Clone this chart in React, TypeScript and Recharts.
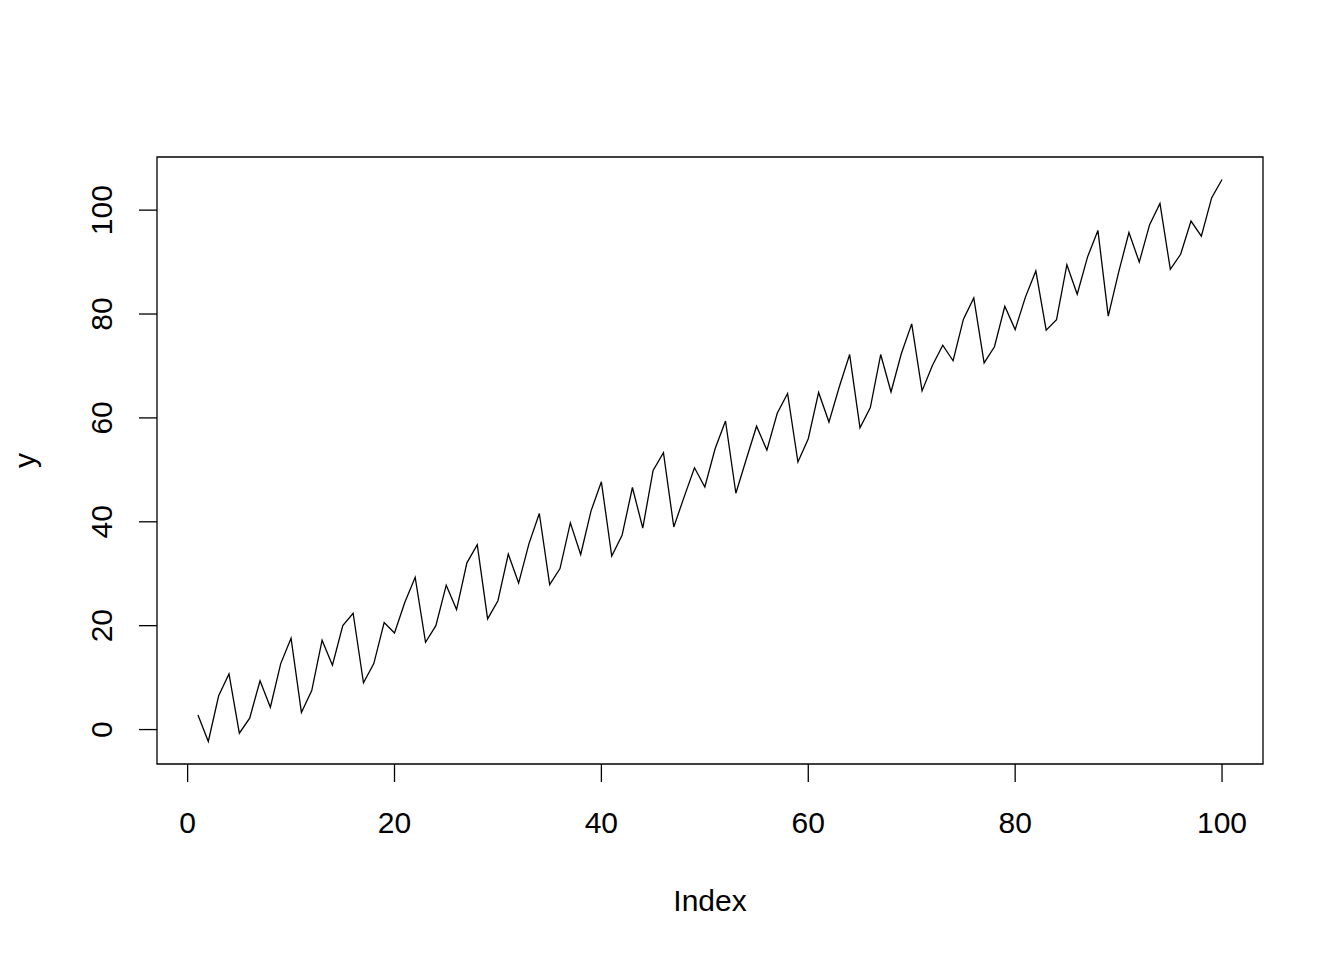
import React from 'react';
import { LineChart, Line, XAxis, YAxis, ReferenceArea, Label } from 'recharts';

// values of y, index 1..100
const yValues = [
  2.8, -2.3, 6.5, 10.7, -0.7, 2.2, 9.4, 4.3, 12.7, 17.6,
  3.3, 7.5, 17.2, 12.4, 20.0, 22.4, 9.0, 12.7, 20.6, 18.6,
  24.5, 29.3, 16.8, 20.0, 27.8, 23.1, 32.1, 35.6, 21.3, 24.8,
  33.8, 28.2, 35.8, 41.6, 27.9, 31.0, 39.8, 33.7, 42.1, 47.7,
  33.4, 37.4, 46.6, 38.8, 49.9, 53.3, 39.0, 44.8, 50.4, 46.7,
  54.1, 59.4, 45.5, 52.0, 58.4, 53.8, 60.9, 64.7, 51.5, 56.0,
  64.9, 59.2, 66.0, 72.2, 58.1, 62.0, 72.2, 65.0, 72.4, 78.1,
  65.2, 70.1, 74.0, 71.0, 79.0, 83.1, 70.6, 73.7, 81.5, 77.0,
  83.3, 88.3, 76.9, 78.9, 89.5, 83.8, 91.0, 96.1, 79.6, 88.0,
  95.7, 90.0, 97.2, 101.3, 88.6, 91.5, 97.9, 95.0, 102.4, 105.9,
];

const xTicks = [0, 20, 40, 60, 80, 100];
const yTicks = [0, 20, 40, 60, 80, 100];

// R pads the data range by 4% on each side
const xDomain = [-2.96, 103.96];
const yDomain = [-6.63, 110.23];

const data = yValues.map((y, i) => ({ index: i + 1, y }));

const FONT = '"Liberation Sans", Arial, sans-serif';

const XTick = (props: any) => {
  const { x, y, payload } = props;
  return (
    <text x={x} y={y} dy={51} textAnchor="middle" fontFamily={FONT} fontSize={30} fill="#000">
      {payload.value}
    </text>
  );
};

const YTick = (props: any) => {
  const { x, y, payload } = props;
  const tx = x - 27;
  return (
    <text x={tx} y={y} textAnchor="middle" fontFamily={FONT} fontSize={30} fill="#000" transform={`rotate(-90, ${tx}, ${y})`}>
      {payload.value}
    </text>
  );
};

const App: React.FC = () => {
  return (
    <div style={{ width: 1344, height: 960, background: '#fff' }}>
      <style>{'body{margin:0}'}</style>
      <LineChart width={1344} height={960} data={data} margin={{ top: 157, right: 81, bottom: 0, left: 0 }}>
        <XAxis
          dataKey="index"
          type="number"
          domain={xDomain}
          ticks={xTicks}
          allowDataOverflow
          height={196}
          axisLine={false}
          tickSize={18}
          tickMargin={0}
          tickLine={{ stroke: '#000', strokeWidth: 1.3 }}
          tick={<XTick />}
          interval={0}
        >
          <Label
            content={(p: any) => {
              const vb = p.viewBox;
              return (
                <text x={vb.x + vb.width / 2} y={vb.y + 147} textAnchor="middle" fontFamily={FONT} fontSize={30} fill="#000">
                  Index
                </text>
              );
            }}
          />
        </XAxis>
        <YAxis
          type="number"
          domain={yDomain}
          ticks={yTicks}
          allowDataOverflow
          width={157}
          axisLine={false}
          tickSize={18}
          tickMargin={0}
          tickLine={{ stroke: '#000', strokeWidth: 1.3 }}
          tick={<YTick />}
          interval={0}
        >
          <Label
            content={(p: any) => {
              const vb = p.viewBox;
              const lx = vb.x + 35;
              const ly = vb.y + vb.height / 2;
              return (
                <text x={lx} y={ly} textAnchor="middle" fontFamily={FONT} fontSize={30} fill="#000" transform={`rotate(-90, ${lx}, ${ly})`}>
                  y
                </text>
              );
            }}
          />
        </YAxis>
        <ReferenceArea
          x1={xDomain[0]}
          x2={xDomain[1]}
          y1={yDomain[0]}
          y2={yDomain[1]}
          fill="none"
          fillOpacity={0}
          stroke="#000"
          strokeWidth={1.3}
          ifOverflow="visible"
        />
        <Line
          type="linear"
          dataKey="y"
          stroke="#000"
          strokeWidth={1.3}
          dot={false}
          isAnimationActive={false}
        />
      </LineChart>
    </div>
  );
};

export default App;
